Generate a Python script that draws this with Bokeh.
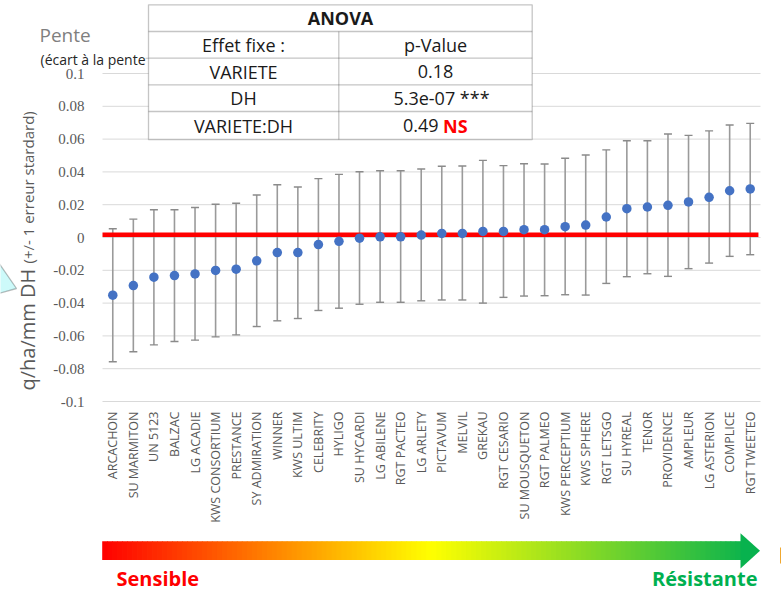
import math
from bokeh.plotting import figure
from bokeh.models import (Range1d, FixedTicker, CustomJSTickFormatter, LinearAxis,
                          Label, BoxAnnotation, PolyAnnotation, Grid)
from bokeh.embed import file_html
from bokeh.resources import INLINE

# ---------------- data ----------------
varieties = ["ARCACHON", "SU MARMITON", "UN 5123", "BALZAC", "LG ACADIE", "KWS CONSORTIUM",
             "PRESTANCE", "SY ADMIRATION", "WINNER", "KWS ULTIM", "CELEBRITY", "HYLIGO",
             "SU HYCARDI", "LG ABILENE", "RGT PACTEO", "LG ARLETY", "PICTAVUM", "MELVIL",
             "GREKAU", "RGT CESARIO", "SU MOUSQUETON", "RGT PALMEO", "KWS PERCEPTIUM",
             "KWS SPHERE", "RGT LETSGO", "SU HYREAL", "TENOR", "PROVIDENCE", "AMPLEUR",
             "LG ASTERION", "COMPLICE", "RGT TWEETEO"]
pente = [-0.0352, -0.0293, -0.0242, -0.0232, -0.0222, -0.0201, -0.0193, -0.0142, -0.0092,
         -0.0092, -0.0043, -0.0023, -0.0004, 0.0004, 0.0004, 0.0015, 0.0025, 0.0025, 0.0037,
         0.0037, 0.0048, 0.0048, 0.0066, 0.0076, 0.0125, 0.0176, 0.0186, 0.0196, 0.0217,
         0.0245, 0.0285, 0.0296]
err_high = [0.0053, 0.0112, 0.0169, 0.0169, 0.0183, 0.0203, 0.0209, 0.0259, 0.0322, 0.0308,
            0.0359, 0.0385, 0.0401, 0.0407, 0.0407, 0.0418, 0.0434, 0.0436, 0.0470, 0.0438,
            0.0450, 0.0448, 0.0483, 0.0503, 0.0534, 0.0590, 0.0590, 0.0631, 0.0623, 0.0650,
            0.0686, 0.0696]
err_low = [-0.0758, -0.0697, -0.0655, -0.0634, -0.0626, -0.0606, -0.0594, -0.0543, -0.0508,
           -0.0494, -0.0445, -0.0431, -0.0407, -0.0395, -0.0395, -0.0386, -0.0381, -0.0381,
           -0.0400, -0.0365, -0.0357, -0.0355, -0.0349, -0.0351, -0.0280, -0.0239, -0.0221,
           -0.0237, -0.0190, -0.0156, -0.0115, -0.0105]
y_ticks = [-0.1, -0.08, -0.06, -0.04, -0.02, 0, 0.02, 0.04, 0.06, 0.08, 0.1]
ref_line = 0.0017

anova_title = "ANOVA"
anova_header = ["Effet fixe :", "p-Value"]
anova_effects = ["VARIETE", "DH", "VARIETE:DH"]
anova_pvalues = ["0.18", "5.3e-07 ***", "0.49"]
anova_flags = ["", "", "NS"]

# ---------------- layout constants ----------------
W, H = 781, 592
FL, FR, FT, FB = 102, 760, 73, 401   # plot-area edges in canvas pixels
n = len(varieties)
xs = list(range(n))
YMIN, YMAX = y_ticks[0], y_ticks[-1]

# the frame covers the whole canvas; ranges chosen so the plot area sits at FL..FR, FT..FB
px_x = (FR - FL) / n
x_lo = -0.5 - FL / px_x
x_hi = -0.5 + (W - FL) / px_x
px_y = (YMAX - YMIN) / (FB - FT)
y_hi = YMAX + FT * px_y
y_lo = YMIN - (H - FB) * px_y

p = figure(width=W, height=H, x_range=Range1d(x_lo, x_hi), y_range=Range1d(y_lo, y_hi),
           output_backend="svg", toolbar_location=None,
           x_axis_location=None, y_axis_location=None,
           min_border=0, min_border_left=0, min_border_right=0,
           min_border_top=0, min_border_bottom=0)
p.outline_line_color = None
p.background_fill_color = "white"
p.border_fill_color = "white"
p.center = [c for c in p.center if not isinstance(c, Grid)]

# axes placed inside the canvas
yaxis = LinearAxis(ticker=FixedTicker(ticks=y_ticks),
                   formatter=CustomJSTickFormatter(code="return String(Math.round(tick*100)/100);"),
                   fixed_location=-0.5,
                   axis_line_color=None, major_tick_line_color=None, minor_tick_line_color=None,
                   major_tick_out=0, major_tick_in=0, minor_tick_out=0,
                   major_label_standoff=18, major_label_text_font="Liberation Serif",
                   major_label_text_font_size="15px", major_label_text_color="#595959")
p.add_layout(yaxis, "left")
xaxis = LinearAxis(ticker=FixedTicker(ticks=xs),
                   formatter=CustomJSTickFormatter(args=dict(names=varieties),
                                                   code="return names[Math.round(tick)] || '';"),
                   fixed_location=YMIN,
                   axis_line_color=None, major_tick_line_color=None, minor_tick_line_color=None,
                   major_tick_out=0, major_tick_in=0, minor_tick_out=0,
                   major_label_orientation=math.pi / 2, major_label_standoff=10,
                   major_label_text_font="Open Sans", major_label_text_font_size="12.5px",
                   major_label_text_color="#595959")
p.add_layout(xaxis, "below")

# horizontal gridlines limited to the plot area
p.segment(x0=-0.5, x1=n - 0.5, y0=y_ticks, y1=y_ticks, line_color="#d9d9d9", line_width=1)

# error bars
p.segment(x0=xs, y0=err_low, x1=xs, y1=err_high, line_color="#9a9a9a", line_width=1.6)
p.scatter(x=xs + xs, y=err_high + err_low, marker="dash", size=8,
          line_color="#8a8a8a", line_width=1.4)

# reference line
p.segment(x0=-0.5, x1=n - 0.6, y0=ref_line, y1=ref_line, line_color="#ff0000", line_width=4.5)

# points
p.scatter(x=xs, y=pente, size=9.5, fill_color="#4472c4", line_color=None)

# ---------------- screen annotations (canvas pixel coords, origin top-left) ----------------
def sx(cx):
    return cx

def sy(cy):
    return H - cy

def box(l, r, t, b, **kw):
    return BoxAnnotation(left=sx(l), right=sx(r), top=sy(t), bottom=sy(b),
                         left_units="screen", right_units="screen",
                         top_units="screen", bottom_units="screen", **kw)

def label(cx, cy, text, **kw):
    return Label(x=sx(cx), y=sy(cy), x_units="screen", y_units="screen", text=text, **kw)

# "Pente" heading
p.add_layout(label(39, 34, "Pente", text_font="Open Sans", text_font_size="19px",
                   text_color="#7f7f7f", text_baseline="middle"))
p.add_layout(label(40, 58.5, "(écart à la pente moyenne)", text_font="Open Sans",
                   text_font_size="14px", text_color="#262626", text_baseline="middle"))

# y-axis title (two sizes)
p.add_layout(label(27, 390, "q/ha/mm DH", text_font="Open Sans", text_font_size="20px",
                   text_color="#595959", angle=math.pi / 2, text_baseline="alphabetic"))
p.add_layout(label(27, 263, "(+/- 1 erreur stardard)", text_font="Open Sans",
                   text_font_size="15px", text_color="#595959", angle=math.pi / 2,
                   text_baseline="alphabetic"))

# cyan callout triangle at left edge
p.add_layout(PolyAnnotation(xs=[sx(-2), sx(16), sx(-2)], ys=[sy(262), sy(288), sy(293)],
                            xs_units="screen", ys_units="screen",
                            fill_color="#cdfafa", fill_alpha=1,
                            line_color="#202020", line_width=1.3))

# ANOVA table
TL, TR, TC = 148, 531.7, 338.3
rows = [4.3, 31, 57.7, 84.3, 111, 139]
p.add_layout(box(TL, TR, rows[0], rows[-1], fill_color="white", fill_alpha=1,
                 line_color="#404040", line_width=1.3))
for yy in rows[1:-1]:
    p.add_layout(box(TL, TR, yy, yy, fill_alpha=0, line_color="#404040", line_width=1.3))
p.add_layout(box(TC, TC, rows[1], rows[-1], fill_alpha=0, line_color="#404040", line_width=1.3))
p.add_layout(box(145, TL, rows[2], rows[2], fill_alpha=0, line_color="#404040", line_width=1.1))

c1, c2 = 243, 435
tfont = dict(text_font="Open Sans", text_font_size="18px", text_color="#1a1a1a",
             text_baseline="middle")
p.add_layout(label(340, (rows[0] + rows[1]) / 2, anova_title, text_align="center",
                   text_font_style="bold", **tfont))
p.add_layout(label(c1, (rows[1] + rows[2]) / 2, anova_header[0], text_align="center", **tfont))
p.add_layout(label(c2, (rows[1] + rows[2]) / 2, anova_header[1], text_align="center", **tfont))
for i, (eff, pv, fl) in enumerate(zip(anova_effects, anova_pvalues, anova_flags)):
    cy = (rows[i + 2] + rows[i + 3]) / 2
    p.add_layout(label(c1, cy, eff, text_align="center", **tfont))
    if fl:
        p.add_layout(label(438, cy, pv, text_align="right", **tfont))
        d = dict(tfont)
        d["text_color"] = "#ff0000"
        p.add_layout(label(442.5, cy, fl, text_align="left", text_font_style="bold", **d))
    else:
        off = 6 if "*" in pv else 0
        p.add_layout(label(c2 + off, cy, pv, text_align="center", **tfont))

# gradient arrow
stops = [(0.0, (255, 0, 0)), (0.5, (255, 255, 0)), (1.0, (0, 176, 80))]

def grad(t):
    for (t0, c0), (t1, c1_) in zip(stops[:-1], stops[1:]):
        if t <= t1:
            u = (t - t0) / (t1 - t0)
            return "#%02x%02x%02x" % tuple(int(round(a + (b - a) * u)) for a, b in zip(c0, c1_))
    return "#%02x%02x%02x" % stops[-1][1]

AX0, AX1, AXT = 101.7, 740, 759.5
N = 128
step = (AX1 - AX0) / N
for k in range(N):
    x0 = AX0 + k * step
    col = grad((x0 + step / 2 - AX0) / (AXT - AX0))
    p.add_layout(box(x0, x0 + step + 0.8, 540.7, 559.5, fill_color=col, fill_alpha=1,
                     line_color=None))
p.add_layout(PolyAnnotation(xs=[sx(AX1), sx(AXT), sx(AX1)], ys=[sy(532.7), sy(550.2), sy(568)],
                            xs_units="screen", ys_units="screen",
                            fill_color=grad(0.985), fill_alpha=1, line_color=None))
# partial orange shape at the right edge
p.add_layout(box(779.5, 782, 547, 563, fill_color="#f0a830", fill_alpha=1, line_color=None))

p.add_layout(label(116, 578, "Sensible", text_font="Open Sans", text_font_size="20px",
                   text_font_style="bold", text_color="#ff0000", text_baseline="middle"))
p.add_layout(label(757, 578, "Résistante", text_font="Open Sans", text_font_size="20px",
                   text_font_style="bold", text_color="#00b050", text_baseline="middle",
                   text_align="right"))

open("out.html", "w").write(file_html(p, INLINE))
